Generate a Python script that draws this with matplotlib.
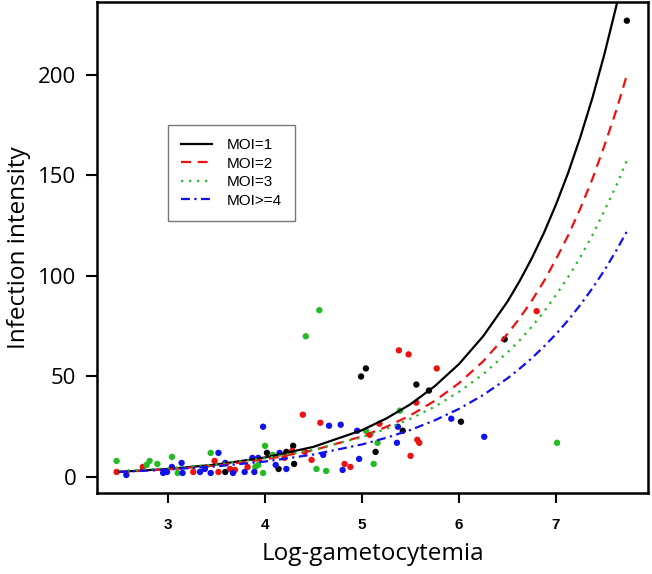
"""
Infection intensity vs log-gametocytemia, by MOI group (R-style chart).
"""

import matplotlib
matplotlib.use('Agg')
import matplotlib.pyplot as plt

# ---- observed points per MOI group (log-gametocytemia, infection intensity)
moi1_x = [3.59, 4.02, 4.14, 4.22, 4.29, 4.30, 4.99, 5.04, 5.14, 5.42, 5.56, 5.69, 6.02, 6.47, 7.73]
moi1_y = [2.5, 12, 4, 12.5, 15.5, 6.5, 50, 54, 12.5, 23, 46, 43, 27.5, 68.5, 227]

moi2_x = [2.47, 2.74, 3.26, 3.48, 3.52, 3.64, 3.69, 3.82, 4.20, 4.28, 4.39, 4.41, 4.48,
          4.57, 4.82, 4.88, 5.08, 5.18, 5.38, 5.48, 5.50, 5.56, 5.57, 5.59, 5.77, 6.80]
moi2_y = [2.5, 5, 2.5, 8, 2.5, 4, 3.5, 5, 9.5, 13, 31, 12.5, 8.5,
          27, 6.5, 5, 21, 26.5, 63, 61, 10.5, 37, 18.5, 17, 54, 82.5]

moi3_x = [2.47, 2.78, 2.81, 2.89, 3.04, 3.10, 3.44, 3.90, 3.93, 3.98, 4.00, 4.08, 4.42,
          4.53, 4.56, 4.63, 5.04, 5.12, 5.16, 5.39, 7.01]
moi3_y = [8, 6, 8, 6.5, 10, 2, 12, 5, 6, 2, 15.5, 11, 70,
          4, 83, 3, 23, 6.5, 17, 33, 17]

moi4_x = [2.57, 2.95, 2.99, 3.04, 3.14, 3.15, 3.33, 3.38, 3.44, 3.52, 3.59, 3.67, 3.79,
          3.87, 3.89, 3.93, 3.98, 4.11, 4.15, 4.22, 4.60, 4.66, 4.78, 4.80, 4.95, 4.97,
          5.36, 5.37, 5.92, 6.26]
moi4_y = [1, 2, 2.5, 5, 7, 2, 2.5, 4, 2, 12, 7, 2, 2.5,
          9.5, 2.5, 9.5, 25, 6, 12, 4, 11, 25.5, 26, 3.5, 23, 9,
          17, 25, 29, 20]

# ---- fitted curves, values
curve_x = [2.5, 3.0, 3.5, 4.0, 4.5, 5.0, 5.25, 5.5, 5.75, 6.0, 6.25, 6.5, 6.625, 6.75,
           6.875, 7.0, 7.125, 7.25, 7.375, 7.5, 7.625, 7.74]
fit1 = [2.6, 4.0, 6.2, 9.7, 15.0, 23.3, 29.1, 36.2, 45.2, 56.2, 70.1, 87.3, 97.5, 108.8,
        121.4, 135.6, 151.3, 169.0, 188.6, 210.6, 235.0, 260.0]
fit2 = [2.5, 3.8, 5.7, 8.7, 13.3, 20.2, 24.9, 30.7, 37.9, 46.7, 57.6, 71.2, 79.0, 87.7,
        97.4, 108.4, 120.2, 133.5, 148.3, 165.0, 183.0, 201.5]
fit3 = [3.0, 4.3, 6.3, 9.3, 13.6, 19.8, 23.9, 29.0, 35.0, 42.4, 51.2, 62.0, 68.0, 74.8,
        82.2, 90.6, 99.5, 109.4, 120.3, 132.6, 145.4, 158.7]
fit4 = [2.5, 3.7, 5.3, 7.7, 11.2, 16.2, 19.5, 23.4, 28.2, 33.9, 40.8, 49.1, 53.9, 59.1,
        64.9, 71.1, 78.0, 85.6, 93.9, 102.9, 113.0, 123.0]

labels = ['MOI=1', 'MOI=2', 'MOI=3', 'MOI>=4']
colors = ['black', '#ee1111', '#22bb22', '#1111ee']

fig = plt.figure(figsize=(6.52, 5.74), dpi=100)
ax = fig.add_axes([97 / 652, 1 - 493 / 574, 551 / 652, 491 / 574])

# puntos
for xs, ys, c in zip([moi1_x, moi2_x, moi3_x, moi4_x],
                     [moi1_y, moi2_y, moi3_y, moi4_y], colors):
    ax.scatter(xs, ys, s=21, color=c, edgecolors='none', zorder=2)

# curvas
styles = ['-', (0, (4.5, 3)), (0, (1, 2.6)), (0, (4, 2, 1, 2))]
for fit, c, ls, lab in zip([fit1, fit2, fit3, fit4], colors, styles, labels):
    ax.plot(curve_x, fit, color=c, linestyle=ls, linewidth=1.6, label=lab, zorder=3)

ax.set_xlim(2.268, 7.948)
ax.set_ylim(-7.96, 236.3)
ax.set_xticks([3, 4, 5, 6, 7])
ax.set_yticks([0, 50, 100, 150, 200])

for sp in ax.spines.values():
    sp.set_linewidth(1.8)

ax.tick_params(axis='x', direction='out', length=7, width=1.5, pad=11)
ax.tick_params(axis='y', direction='out', length=8, width=1.5, pad=7)
for t in ax.get_xticklabels():
    t.set_fontfamily('Liberation Sans')
    t.set_fontweight('bold')
    t.set_fontsize(11)
for t in ax.get_yticklabels():
    t.set_fontfamily('Open Sans')
    t.set_fontsize(16)

ax.set_xlabel('Log-gametocytemia', fontfamily='Open Sans', fontsize=17.5, labelpad=7)
ax.set_ylabel('Infection intensity', fontfamily='Open Sans', fontsize=17.5, labelpad=5)

leg = ax.legend(loc='upper left', bbox_to_anchor=(168 / 652, 1 - 125 / 574),
                bbox_transform=fig.transFigure, frameon=True, fancybox=False,
                prop={'family': 'Liberation Sans', 'size': 11},
                handlelength=2.0, handletextpad=1.0, labelspacing=0.3,
                borderpad=0.85, borderaxespad=0)
leg.get_frame().set_edgecolor('#555555')
leg.get_frame().set_linewidth(1.0)

plt.savefig('out.png', dpi=100)
